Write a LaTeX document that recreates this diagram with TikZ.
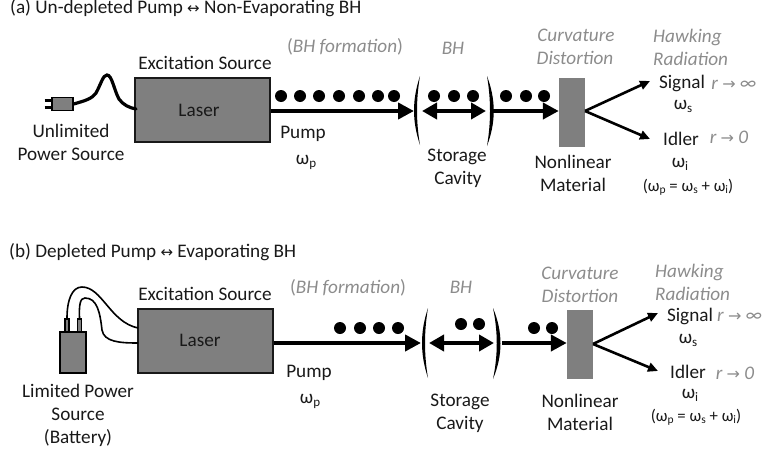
\documentclass[tikz,border=0pt]{standalone}
\usepackage{fontspec}
\setmainfont{Carlito}
\newfontfamily\arrowfont{DejaVu Sans}
\usetikzlibrary{arrows.meta}
\newcommand{\lowsub}[1]{\raisebox{-3pt}{\fontsize{13}{13}\selectfont #1}}
\newcommand{\tinysub}[1]{\raisebox{-2.5pt}{\fontsize{11.5}{11.5}\selectfont #1}}
\newcommand{\rarr}{{\arrowfont\upshape\fontsize{16}{16}\selectfont →}}
\newcommand{\lrarr}{{\arrowfont\fontsize{15}{15}\selectfont ↔}}
\definecolor{fillgray}{HTML}{7F7F7F}
\definecolor{softgray}{HTML}{8C8C8C}
\tikzset{
  lbl/.style={inner sep=0pt,font=\fontsize{19.2}{22}\selectfont,text height=12pt,text depth=0pt,text=black!90},
  ghost/.style={lbl,text=softgray,font=\fontsize{19.2}{22}\selectfont\itshape},
  eqn/.style={lbl,font=\fontsize{16.8}{18}\selectfont,text height=10pt},
  laserbox/.style={draw=black!90,line width=1.4pt,fill=fillgray,inner sep=0pt,minimum width=135pt,minimum height=64pt},
  matbox/.style={fill=fillgray,inner sep=0pt,minimum width=26pt,minimum height=69pt},
  dot/.style={circle,fill=black,inner sep=0pt,minimum size=12pt},
  beam/.style={line width=4.4pt,-{Triangle[length=16pt,width=16pt]}},
  beamboth/.style={line width=4.4pt,{Triangle[length=15pt,width=16pt]}-{Triangle[length=15pt,width=16pt]}},
  outarrow/.style={line width=2.6pt,-{Triangle[length=10pt,width=9pt]}},
  cord/.style={line width=3.2pt,line cap=round},
  wire/.style={line width=1.6pt},
  paren/.style={fill=black}
}
\begin{document}
\begin{tikzpicture}[x=1pt,y=-1pt]
\useasboundingbox (0,0) rectangle (763,450);
% ---------- panel (a)
\node[lbl,anchor=west] (ta) at (10,7.5) {(a) Un-depleted Pump \lrarr{} Non-Evaporating BH};
\node[laserbox] (la) at (202.5,110) {};
\node[lbl] (lat) at (199,110) {Laser};
\node[lbl] (exa) at (205,63) {Excitation Source};
\node[inner sep=0pt,draw=black,line width=1.3pt,fill=fillgray,minimum width=21pt,minimum height=13pt] (pluga) at (62.5,104) {};
\draw[line width=2.4pt] (44.5,100.5) -- (52,100.5) (44.5,107.5) -- (52,107.5);
\coordinate (ca) at (136,109);
\draw[cord] (pluga.east) .. controls (84,101) and (92,99) .. (96,93) .. controls (101,84) and (103,75) .. (107,75) .. controls (112,75) and (114,90) .. (119,99) .. controls (123,105) and (130,108) .. (ca);
\node[lbl] (una1) at (71,131) {Unlimited};
\node[lbl] (una2) at (71,154) {Power Source};
\node[lbl] (pa) at (303,132) {Pump};
\node[lbl] (wpa) at (306,158) {ω\lowsub{p}};
\coordinate (a1) at (414,111);
\draw[beam] (la.east |- a1) -- (a1);
\foreach \x/\n in {281/1,300/2,319/3,339/4,359/5,378/6,394/7} \node[dot] (da\n) at (\x,96) {};
\path[paren] (420,76) .. controls (412,100) and (412,121) .. (420,145) .. controls (416,121) and (416,100) .. (420,76);
\path[paren] (487,76) .. controls (496,100) and (496,122) .. (487,146) .. controls (491,122) and (491,100) .. (487,76);
\coordinate (a2) at (422,111); \coordinate (a3) at (486,111);
\draw[beamboth] (a2) -- (a3);
\foreach \x/\n in {434/8,454/9,473/10} \node[dot] (da\n) at (\x,96) {};
\node[matbox] (ma) at (572,112.5) {};
\coordinate (a4) at (493,111);
\draw[beam] (a4) -- (ma.west |- a4);
\foreach \x/\n in {506/11,526/12,544/13} \node[dot] (da\n) at (\x,96) {};
\coordinate (a5) at (585,111); \coordinate (a6) at (650,81); \coordinate (a7) at (650,139);
\draw[outarrow] (a5) -- (a6);
\draw[outarrow] (a5) -- (a7);
\node[lbl] (sa) at (682,82) {Signal};
\node[lbl] (wsa) at (683,103) {ω\lowsub{s}};
\node[lbl] (ia) at (681,139) {Idler};
\node[lbl] (wia) at (680,161) {ω\lowsub{i}};
\node[eqn] (eqa) at (688,186) {(ω\tinysub{p} = ω\tinysub{s} + ω\tinysub{i})};
\node[ghost] (ra1) at (734,83) {r \rarr{} ∞};
\node[ghost] (ra2) at (729,137) {r \rarr{} 0};
\node[ghost] (fa) at (345,46) {\upshape(\itshape BH formation\upshape)};
\node[ghost] (ba) at (453,48) {BH};
\node[ghost] (ca1) at (576,35) {Curvature};
\node[ghost] (ca2) at (575,58) {Distortion};
\node[ghost,anchor=west] (ha1) at (653,36) {Hawking};
\node[ghost,anchor=west] (ha2) at (653,59) {Radiation};
\node[lbl] (sca1) at (457,155) {Storage};
\node[lbl] (sca2) at (458,178) {Cavity};
\node[lbl] (na1) at (573,162) {Nonlinear};
\node[lbl] (na2) at (573,185) {Material};
% ---------- panel (b)
\node[lbl,anchor=west] (tb) at (9,251) {(b) Depleted Pump \lrarr{} Evaporating BH};
\node[laserbox] (lb) at (205.5,341) {};
\node[lbl] (lbt) at (200,340) {Laser};
\node[lbl] (exb) at (205,294) {Excitation Source};
\node[inner sep=0pt,draw=black,line width=1.3pt,fill=fillgray,minimum width=26pt,minimum height=41pt] (bat) at (73,352.5) {};
\node[inner sep=0pt,draw=black,line width=1.4pt,fill=fillgray,minimum width=4pt,minimum height=13pt] (pr1) at (67,325.5) {};
\node[inner sep=0pt,draw=black,line width=1.4pt,fill=fillgray,minimum width=4pt,minimum height=13pt] (pr2) at (79.5,325.5) {};
\coordinate (w1) at (138,328); \coordinate (w2) at (138,343);
\draw[wire] (pr1.north) .. controls (67,300) and (72,287) .. (82,287) .. controls (102,287) and (110,322) .. (w1);
\draw[wire] (pr2.north) .. controls (79,305) and (80,298) .. (85,298) .. controls (97,298) and (100,312) .. (102,330) .. controls (104,342) and (120,343) .. (w2);
\node[lbl] (lim1) at (78,391) {Limited Power};
\node[lbl] (lim2) at (78,414) {Source};
\node[lbl] (lim3) at (78,437) {(Battery)};
\node[lbl] (pb) at (309,371) {Pump};
\node[lbl] (wpb) at (310,397) {ω\lowsub{p}};
\coordinate (b1) at (421,343);
\draw[beam] (lb.east |- b1) -- (b1);
\foreach \x/\n in {340/1,360/2,379/3,398/4} \node[dot] (db\n) at (\x,328) {};
\path[paren] (428,308) .. controls (420,332) and (420,354) .. (428,378) .. controls (424,354) and (424,332) .. (428,308);
\path[paren] (493,308) .. controls (503,332) and (503,355) .. (493,379) .. controls (498,355) and (498,332) .. (493,308);
\coordinate (b2) at (429,343); \coordinate (b3) at (494,343);
\draw[beamboth] (b2) -- (b3);
\foreach \x/\y/\n in {461/324/5,479/324/6,534/328/7,552/328/8} \node[dot] (db\n) at (\x,\y) {};
\node[matbox] (mb) at (580,344.5) {};
\coordinate (b4) at (502,343);
\draw[beam] (b4) -- (mb.west |- b4);
\coordinate (b5) at (593,344); \coordinate (b6) at (658,313); \coordinate (b7) at (658,371);
\draw[outarrow] (b5) -- (b6);
\draw[outarrow] (b5) -- (b7);
\node[lbl] (sb) at (690,315) {Signal};
\node[lbl] (wsb) at (688,337) {ω\lowsub{s}};
\node[lbl] (ib) at (688,372) {Idler};
\node[lbl] (wib) at (690,392) {ω\lowsub{i}};
\node[eqn] (eqb) at (696,416) {(ω\tinysub{p} = ω\tinysub{s} + ω\tinysub{i})};
\node[ghost,anchor=west] (rb1) at (717,315) {r \rarr{} ∞};
\node[ghost] (rb2) at (735,373) {r \rarr{} 0};
\node[ghost] (fb) at (348,287) {\upshape(\itshape BH formation\upshape)};
\node[ghost] (bb) at (461,287) {BH};
\node[ghost] (cb1) at (580,273) {Curvature};
\node[ghost] (cb2) at (580,296) {Distortion};
\node[ghost,anchor=west] (hb1) at (655,271) {Hawking};
\node[ghost,anchor=west] (hb2) at (655,294) {Radiation};
\node[lbl] (scb1) at (460,400) {Storage};
\node[lbl] (scb2) at (460,423) {Cavity};
\node[lbl] (nb1) at (580,401) {Nonlinear};
\node[lbl] (nb2) at (580,424) {Material};
\end{tikzpicture}
\end{document}
